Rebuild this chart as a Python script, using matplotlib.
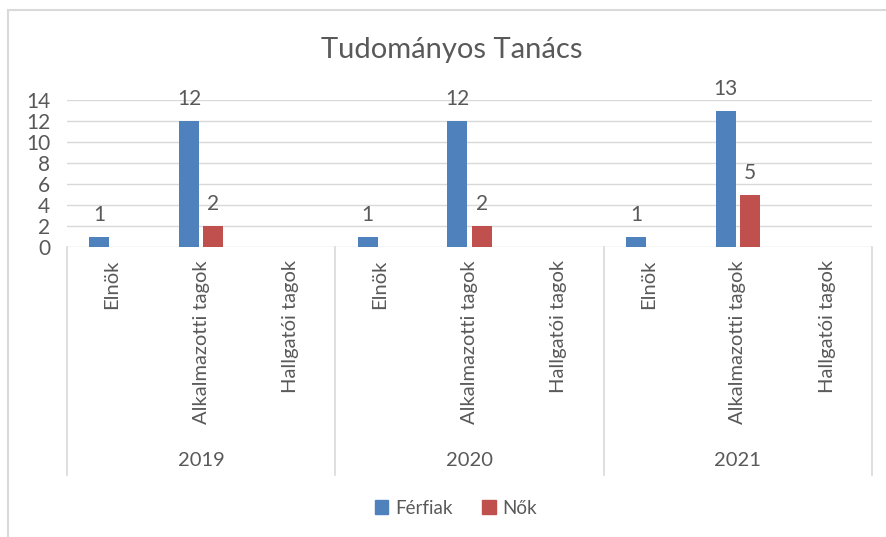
import numpy as np
import matplotlib.pyplot as plt
from matplotlib.patches import Rectangle
from matplotlib.transforms import blended_transform_factory

plt.rcParams['font.family'] = ['Lato', 'DejaVu Sans']

years = ['2019', '2020', '2021']
roles = ['Elnök', 'Alkalmazotti tagok', 'Hallgatói tagok']
ferfiak = [1, 12, 0, 1, 12, 0, 1, 13, 0]
nok = [0, 2, 0, 0, 2, 0, 0, 5, 0]

blue = '#4f81bd'
red = '#c0504d'
grey_txt = '#595959'
grid_c = '#d9d9d9'

W, H = 886, 537
fig = plt.figure(figsize=(W / 100, H / 100), dpi=100)

# outer chart frame (runs off the right and bottom edge)
fig.patches.append(Rectangle((8 / W, -20 / H), (W + 20) / W, (H - 10 + 20) / H,
                             transform=fig.transFigure, fill=False,
                             edgecolor=grid_c, linewidth=1.5))

# caption of the page, cut off by the top edge - only the bottoms show
fig.text(-14 / W, 1 + 9 / H, 'Figure 10: The composition of the Scientific Council of the Senate by gender',
         ha='left', va='baseline', fontsize=21, family='Liberation Serif', style='italic')

ax = fig.add_axes([67 / W, (H - 247) / H, (872 - 67) / W, 147 / H])
x = np.arange(len(ferfiak))
w = 0.224
off = 0.137
ax.bar(x - off, ferfiak, w, color=blue, zorder=3)
ax.bar(x + off, nok, w, color=red, zorder=3)

for xi, v in zip(x, ferfiak):
    if v:
        ax.text(xi - off, v + 1.5, str(v), ha='center', va='baseline', fontsize=15, color=grey_txt)
for xi, v in zip(x, nok):
    if v:
        ax.text(xi + off, v + 1.5, str(v), ha='center', va='baseline', fontsize=15, color=grey_txt)

ax.set_xlim(-0.5, len(x) - 0.5)
ax.set_ylim(0, 14)
ax.set_yticks(range(0, 15, 2))
ax.tick_params(axis='y', length=0, labelsize=15, labelcolor=grey_txt, pad=12)
ax.set_xticks([])
ax.grid(axis='y', color=grid_c, linewidth=1, zorder=0)
for s in ax.spines.values():
    s.set_visible(False)

fig.text(452 / W, (H - 50) / H, 'Tudományos Tanács', ha='center', va='center',
         fontsize=21, color=grey_txt)

tr = blended_transform_factory(ax.transData, fig.transFigure)
for b in [-0.5, 2.5, 5.5, 8.5]:
    ax.plot([b, b], [(H - 247) / H, (H - 475) / H], color=grid_c, linewidth=1.2,
            transform=tr, clip_on=False)

for i in range(len(x)):
    ax.text(x[i], (H - 260) / H, roles[i % 3], rotation=90, ha='center', va='top',
            fontsize=14.5, color=grey_txt, transform=tr)
for j, yr in enumerate(years):
    ax.text(3 * j + 1, (H - 460) / H, yr, ha='center', va='center',
            fontsize=14.5, color=grey_txt, transform=tr)

# legend
handles = [Rectangle((0, 0), 1, 1, color=blue), Rectangle((0, 0), 1, 1, color=red)]
fig.legend(handles, ['Férfiak', 'Nők'], loc='center', bbox_to_anchor=(456 / W, (H - 508) / H),
           ncol=2, frameon=False, fontsize=13.5, handlelength=0.7, handleheight=0.7,
           handletextpad=0.35, columnspacing=1.6, labelcolor=grey_txt)

fig.savefig('out.png', dpi=100)
